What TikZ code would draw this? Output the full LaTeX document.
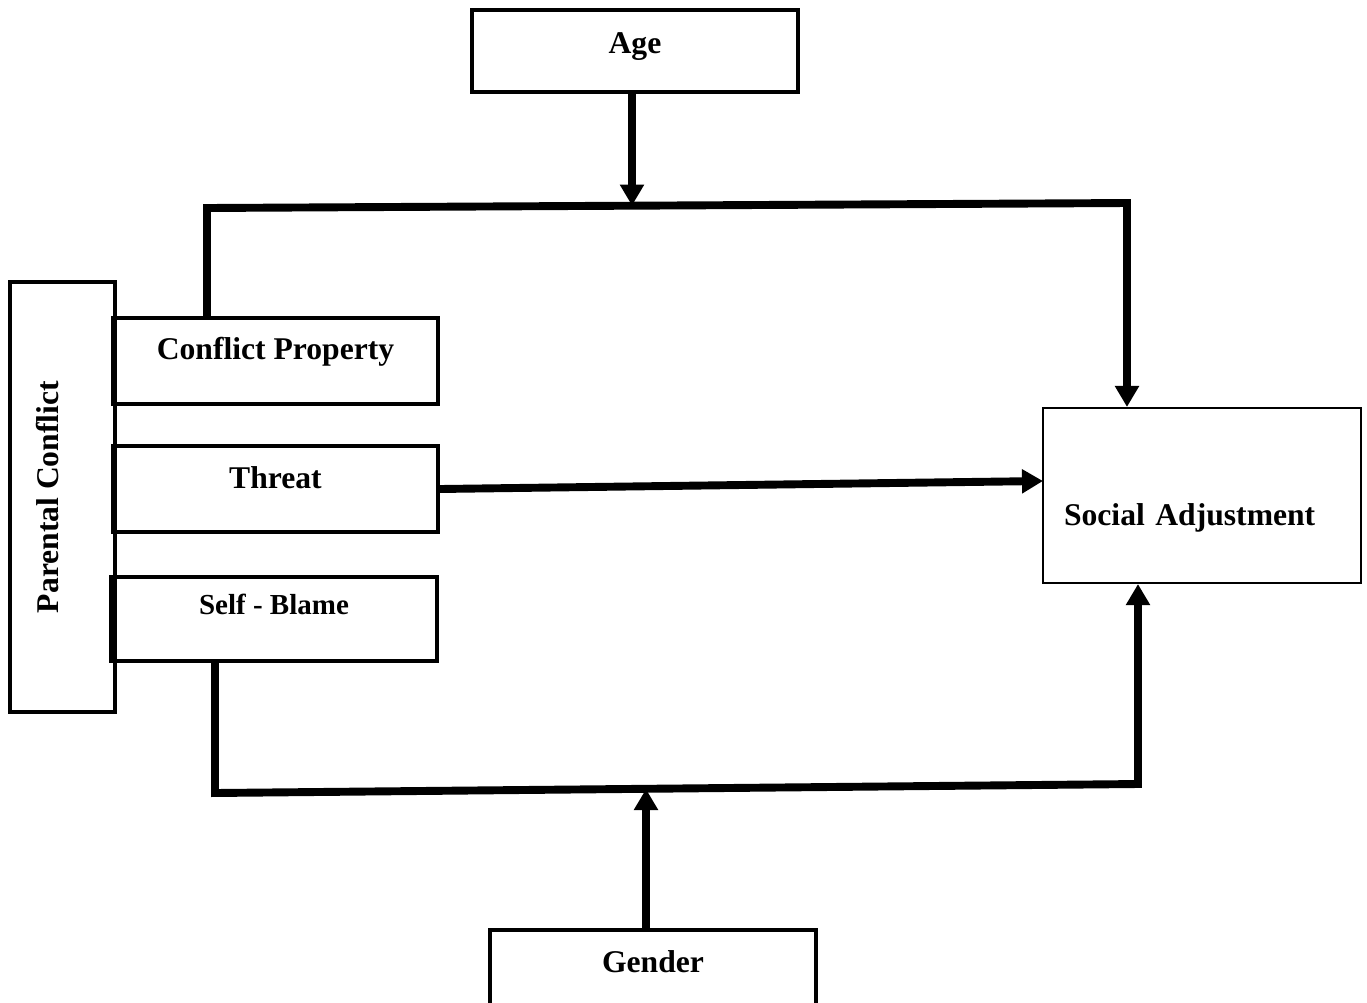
\documentclass[tikz,border=0pt]{standalone}
\usepackage{fontspec}
\setmainfont{Liberation Serif}
\usetikzlibrary{arrows.meta}

\begin{document}
\begin{tikzpicture}[x=0.02cm,y=-0.02cm,
  box/.style={draw,line width=2.3pt,inner sep=0pt,font=\fontsize{18}{20}\selectfont\bfseries,text height=12pt},
  conn/.style={line width=4.5pt},
  tip/.style={-{Triangle[length=0.42cm,width=0.46cm]}}]
\useasboundingbox (0,0) rectangle (1367,1002);
\clip (0,0) rectangle (1367,1002);

\node[box,minimum width=6.52cm,minimum height=1.64cm,text depth=9.7pt] (age) at (635,51) {Age};
\node[box,rotate=90,minimum width=8.6cm,minimum height=2.1cm,text depth=16pt] (pc) at (62.5,497) {Parental Conflict};
\node[box,minimum width=6.5cm,minimum height=1.72cm,text depth=13.7pt] (cp) at (275.5,361) {Conflict Property};
\node[box,minimum width=6.5cm,minimum height=1.72cm,text depth=13.1pt] (th) at (275.5,489) {Threat};
\node[box,minimum width=6.52cm,minimum height=1.68cm,text depth=16.6pt,font=\fontsize{16.5}{18}\selectfont\bfseries] (sb) at (274,619) {Self - Blame};
\node[box,line width=1.2pt,minimum width=6.36cm,minimum height=3.5cm,text height=40pt,text depth=6.4pt,
      text width=5.52cm,align=left] (sa) at (1202,495.5) {Social Adjustment};
\node[box,minimum width=6.52cm,minimum height=1.68cm,text depth=12pt] (gender) at (653,972) {Gender};

\coordinate (tl) at (207,208);
\coordinate (tr) at (1127,203);
\coordinate (ta) at (632,205.6);
\coordinate (bl) at (215,793);
\coordinate (br) at (1138,784);
\coordinate (gb) at (646,789);
\coordinate (sain) at (1043,481);

\draw[conn,tip] (age.south -| ta) -- (ta);
\draw[conn,tip] (cp.north -| tl) -- (tl) -- (tr) -- (tr |- sa.north);
\draw[conn,tip] (th.east) -- (sain);
\draw[conn,tip] (sb.south -| bl) -- (bl) -- (br) -- (br |- sa.south);
\draw[conn,tip] (gender.north -| gb) -- (gb);
\end{tikzpicture}
\end{document}
